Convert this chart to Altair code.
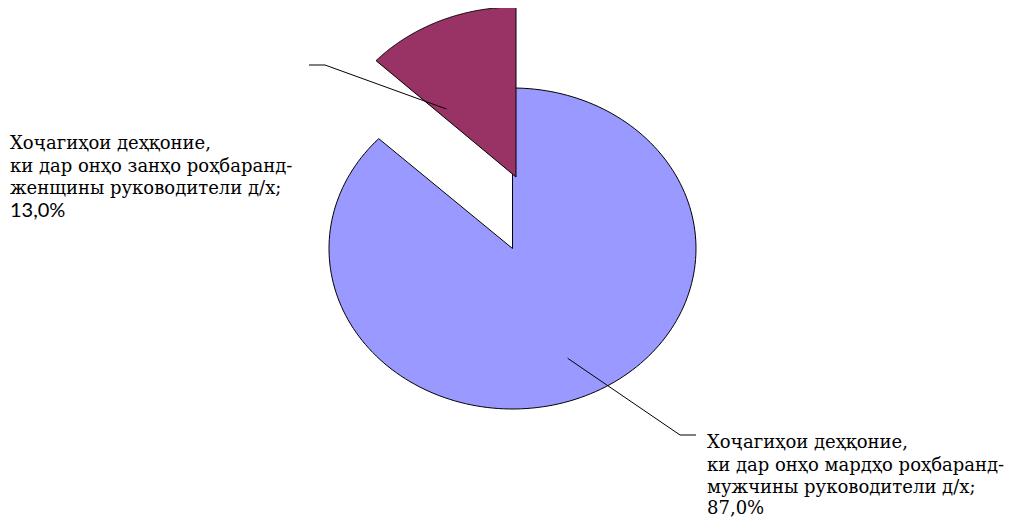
import math
import altair as alt
import pandas as pd

# ---- data ----
categories = [
    "Хоҷагиҳои деҳқоние,\nки дар онҳо занҳо роҳбаранд-\n\u00a0женщины руководители д/х;",
    "Хоҷагиҳои деҳқоние,\nки дар онҳо мардҳо роҳбаранд-\nмужчины руководители д/х;",
]
values = [13.0, 87.0]
slice_order = [2, 1]          # clockwise from 12 o'clock
colors = ["#993366", "#9999FF"]

df = pd.DataFrame({"category": categories, "value": values, "order": slice_order})

W, H = 999, 516
N = 180  # arc resolution
xs = alt.Scale(domain=[0, W], range=[0, W])
ys = alt.Scale(domain=[0, H], range=[0, H])

base = (
    alt.Chart(df)
    .transform_joinaggregate(total="sum(value)")
    .transform_window(cum="sum(value)", sort=[alt.SortField("order")])
    .transform_calculate(
        t0="(datum.cum - datum.value) / datum.total",
        t1="datum.cum / datum.total",
        pct="replace(format(datum.value, '.1f'), '.', ',') + '%'",
    )
)

def slice_layer(idx, cx, cy, rx, ry):
    ang = f"2 * PI * (datum.t0 + (datum.t1 - datum.t0) * datum.k / {N})"
    inside = f"datum.k >= 0 && datum.k <= {N}"
    return (
        base.transform_filter(alt.datum.order == slice_order[idx])
        .transform_calculate(pts=f"sequence(-1, {N + 2})")
        .transform_flatten(["pts"], as_=["k"])
        .transform_calculate(
            px=f"{cx} + ({inside} ? {rx} * sin({ang}) : 0)",
            py=f"{cy} - ({inside} ? {ry} * cos({ang}) : 0)",
        )
        .mark_line(fill=colors[idx], stroke="black", strokeWidth=1, interpolate="linear")
        .encode(
            x=alt.X("px:Q", scale=xs, axis=None),
            y=alt.Y("py:Q", scale=ys, axis=None),
            order=alt.Order("k:Q"),
        )
    )

big = slice_layer(1, 504.5, 240.5, 183.5, 160.5)
small = slice_layer(0, 508, 169, 192, 170)

def rule(idx, x1, y1, x2, y2):
    return (
        base.transform_filter(alt.datum.order == slice_order[idx])
        .mark_rule(color="black", strokeWidth=1)
        .encode(x=alt.value(x1), y=alt.value(y1), x2=alt.value(x2), y2=alt.value(y2))
    )

leaders = [
    rule(0, 301, 57, 317, 57),
    rule(0, 317, 57, 438.5, 101),
    rule(1, 559.7, 350.3, 672, 427),
    rule(1, 672, 427, 688, 427),
]

SERIF = "DejaVu Serif"
FS = 18
LH = 22.6

def name_text(idx, x, y, font, fs):
    return (
        base.transform_filter(alt.datum.order == slice_order[idx])
        .mark_text(align="left", baseline="alphabetic", font=font,
                   fontSize=fs, lineHeight=LH, lineBreak="\n", color="black")
        .encode(x=alt.value(x), y=alt.value(y), text="category:N")
    )

def pct_text(idx, x, y, font, fs):
    return (
        base.transform_filter(alt.datum.order == slice_order[idx])
        .mark_text(align="left", baseline="alphabetic", font=font,
                   fontSize=fs, color="black")
        .encode(x=alt.value(x), y=alt.value(y), text="pct:N")
    )

labels = [
    name_text(0, 2, 141, SERIF, FS),
    pct_text(0, 2, 209, "Lato", 20),
    name_text(1, 699, 440, SERIF, FS),
    pct_text(1, 699, 506, SERIF, FS),
]

chart = (
    alt.layer(big, small, *leaders, *labels)
    .properties(width=W, height=H, autosize=alt.AutoSizeParams(type="none"), padding=0)
    .configure_view(stroke=None)
)

chart.save("out.html", embed_options={"renderer": "svg", "actions": False})
